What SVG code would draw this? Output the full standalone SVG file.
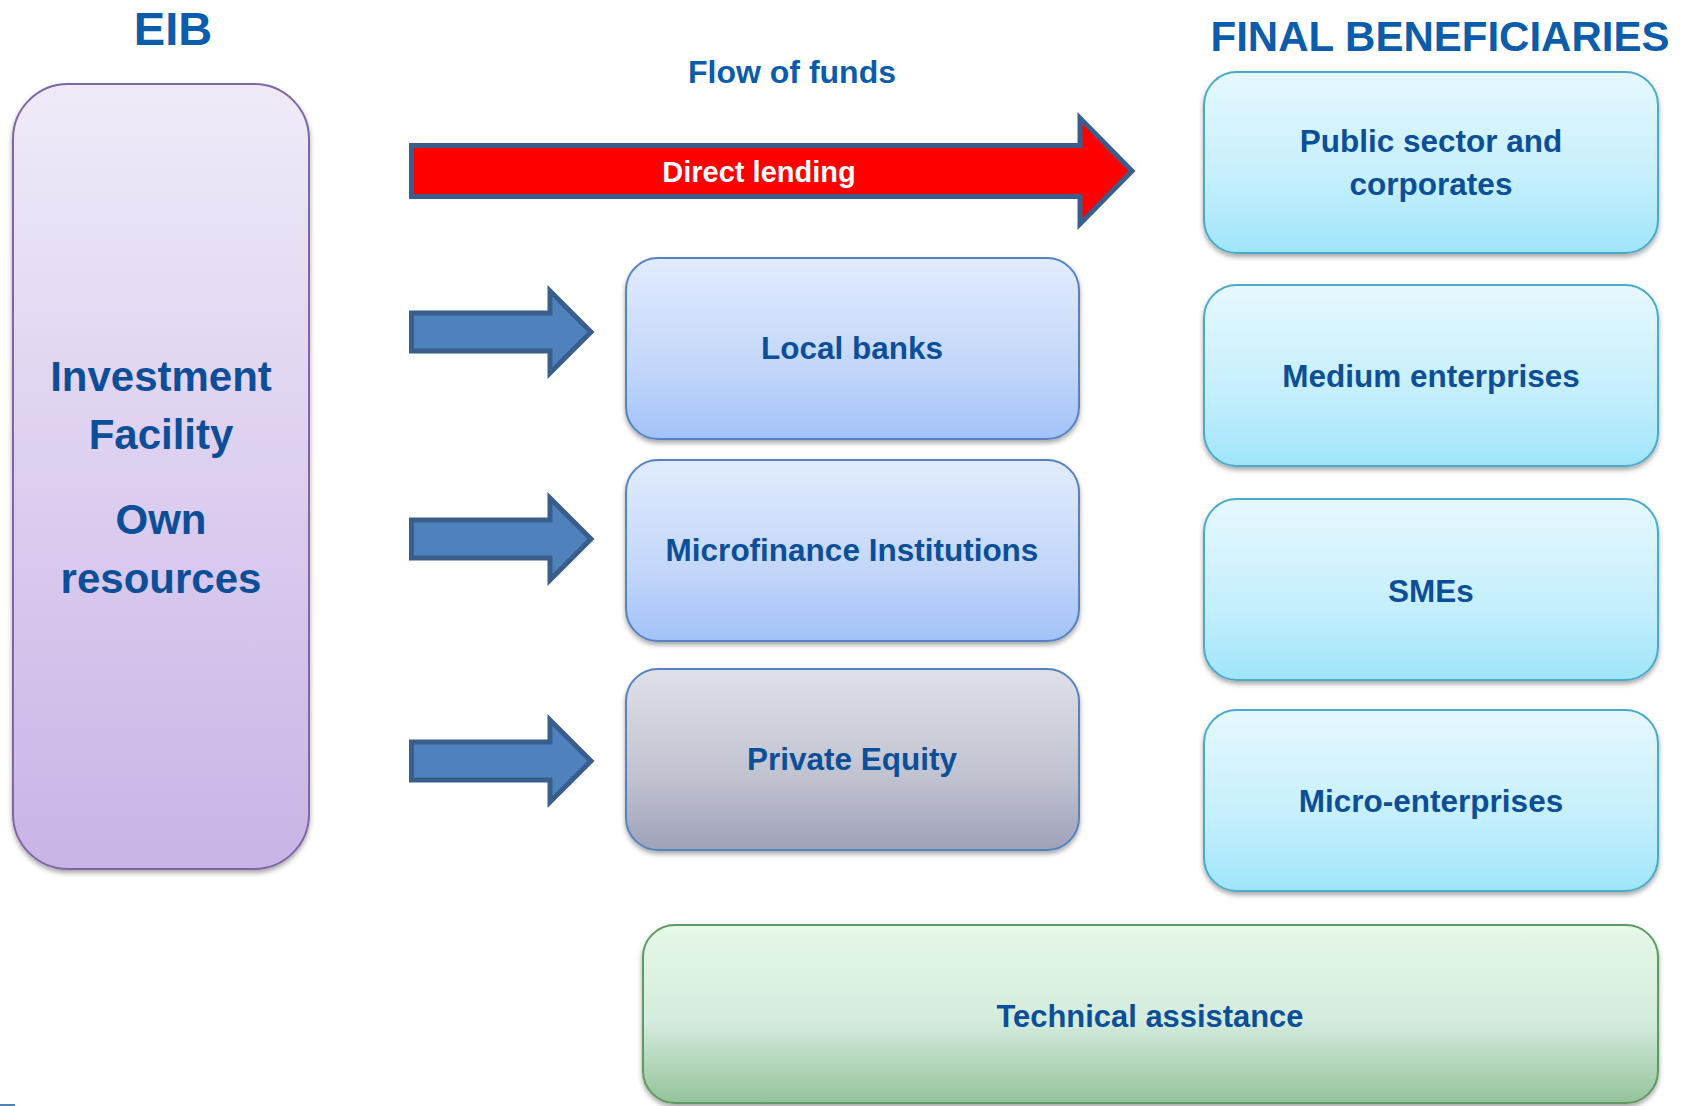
<svg xmlns="http://www.w3.org/2000/svg" width="1687" height="1106" viewBox="0 0 1687 1106">
<defs>
  <linearGradient id="gPurple" x1="0" y1="0" x2="0" y2="1">
    <stop offset="0" stop-color="#F0EAF8"/>
    <stop offset="1" stop-color="#C8B4E6"/>
  </linearGradient>
  <linearGradient id="gBlue" x1="0" y1="0" x2="0" y2="1">
    <stop offset="0" stop-color="#E1EBFC"/>
    <stop offset="0.6" stop-color="#C3D7FA"/>
    <stop offset="1" stop-color="#A2C2F8"/>
  </linearGradient>
  <linearGradient id="gGray" x1="0" y1="0" x2="0" y2="1">
    <stop offset="0" stop-color="#DFE0E7"/>
    <stop offset="0.6" stop-color="#C0C2D0"/>
    <stop offset="1" stop-color="#9EA2B9"/>
  </linearGradient>
  <linearGradient id="gCyan" x1="0" y1="0" x2="0" y2="1">
    <stop offset="0" stop-color="#E6F8FE"/>
    <stop offset="0.6" stop-color="#C4EFFC"/>
    <stop offset="1" stop-color="#9FE5FA"/>
  </linearGradient>
  <linearGradient id="gGreen" x1="0" y1="0" x2="0" y2="1">
    <stop offset="0" stop-color="#E6F8E6"/>
    <stop offset="0.55" stop-color="#D3EBDD"/>
    <stop offset="1" stop-color="#94C39A"/>
  </linearGradient>
  <filter id="shadow" x="-5%" y="-5%" width="110%" height="115%">
    <feDropShadow dx="0" dy="3" stdDeviation="2.5" flood-color="#000" flood-opacity="0.35"/>
  </filter>
</defs>
<style>
  .head { font-family: "Liberation Sans", Arial, sans-serif; font-weight: bold; fill: #0B5CAA; text-anchor: middle; }
  .lbl { font-family: "Liberation Sans", Arial, sans-serif; font-weight: bold; fill: #0D4E98; text-anchor: middle; font-size: 31.5px; }
  .big { font-size: 42px; }
  .box { stroke-width: 2; filter: url(#shadow); }
  .purple { fill: url(#gPurple); stroke: #8066A4; }
  .blue { fill: url(#gBlue); stroke: #5583C2; }
  .gray { fill: url(#gGray); stroke: #5583C2; }
  .cyan { fill: url(#gCyan); stroke: #4BAAC8; }
  .green { fill: url(#gGreen); stroke: #5E9A62; }
  .arrow { fill: #4F81BD; stroke: #3A5E8C; stroke-width: 5; stroke-linejoin: miter; }
  .red { fill: #FF0000; }
</style>
<rect width="1687" height="1106" fill="#FFFFFF"/>

<text class="head" x="173" y="45" font-size="47">EIB</text>
<text class="head" x="1440" y="51" font-size="42">FINAL BENEFICIARIES</text>
<text class="head" x="792" y="83" font-size="32">Flow of funds</text>

<g id="eib">
  <rect class="box purple" x="13" y="84" width="296" height="785" rx="55" ry="55"/>
  <text class="lbl big" x="161" y="391">Investment</text>
  <text class="lbl big" x="161" y="449">Facility</text>
  <text class="lbl big" x="161" y="534">Own</text>
  <text class="lbl big" x="161" y="593">resources</text>
</g>

<g id="connectors">
  <path class="arrow red" d="M411.5,145.5 L1080,145.5 L1080,118 L1132,171 L1080,224 L1080,196.5 L411.5,196.5 Z"/>
  <text x="759" y="182" font-family="Liberation Sans, Arial, sans-serif" font-weight="bold" font-size="29" fill="#FFFFFF" text-anchor="middle">Direct lending</text>
  <path class="arrow" d="M411.5,313 L550,313 L550,291 L591,332 L550,373 L550,351 L411.5,351 Z"/>
  <path class="arrow" d="M411.5,520 L550,520 L550,498 L591,539 L550,580 L550,558 L411.5,558 Z"/>
  <path class="arrow" d="M411.5,742 L550,742 L550,720 L591,761 L550,802 L550,780 L411.5,780 Z"/>
</g>

<g id="local-banks">
  <rect class="box blue" x="626" y="258" width="453" height="181" rx="32" ry="32"/>
  <text class="lbl" x="852" y="359">Local banks</text>
</g>
<g id="microfinance">
  <rect class="box blue" x="626" y="460" width="453" height="181" rx="32" ry="32"/>
  <text class="lbl" x="852" y="561">Microfinance Institutions</text>
</g>
<g id="private-equity">
  <rect class="box gray" x="626" y="669" width="453" height="181" rx="32" ry="32"/>
  <text class="lbl" x="852" y="770">Private Equity</text>
</g>

<g id="public-sector">
  <rect class="box cyan" x="1204" y="72" width="454" height="181" rx="33" ry="33"/>
  <text class="lbl" x="1431" y="152">Public sector and</text>
  <text class="lbl" x="1431" y="195">corporates</text>
</g>
<g id="medium">
  <rect class="box cyan" x="1204" y="285" width="454" height="181" rx="33" ry="33"/>
  <text class="lbl" x="1431" y="387">Medium enterprises</text>
</g>
<g id="smes">
  <rect class="box cyan" x="1204" y="499" width="454" height="181" rx="33" ry="33"/>
  <text class="lbl" x="1431" y="602">SMEs</text>
</g>
<g id="micro">
  <rect class="box cyan" x="1204" y="710" width="454" height="181" rx="33" ry="33"/>
  <text class="lbl" x="1431" y="812">Micro-enterprises</text>
</g>

<g id="technical-assistance">
  <rect class="box green" x="643" y="925" width="1015" height="178" rx="32" ry="32"/>
  <text class="lbl" x="1150" y="1027" font-size="32" textLength="307" lengthAdjust="spacingAndGlyphs">Technical assistance</text>
</g>

<rect x="0" y="1104" width="15" height="2" fill="#4F81BD"/>
</svg>
